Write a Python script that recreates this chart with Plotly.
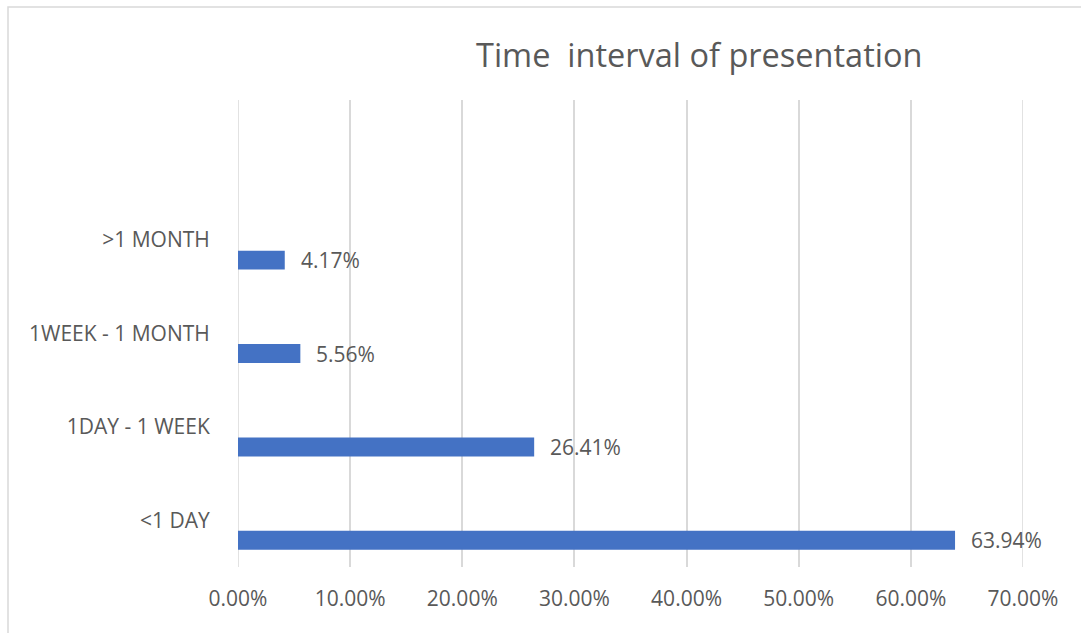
import plotly.graph_objects as go

categories = ["<1 DAY", "1DAY - 1 WEEK", "1WEEK - 1 MONTH", ">1 MONTH"]
values = [0.6394, 0.2641, 0.0556, 0.0417]
x_ticks = [0.0, 0.1, 0.2, 0.3, 0.4, 0.5, 0.6, 0.7]
title_text = "Time  interval of presentation"

W, H = 1081, 633
L, R, T, B = 238, 1081 - 1023, 100, 633 - 567
pw, ph = W - L - R, H - T - B

FONT = "Segoe UI, Open Sans, Noto Sans, sans-serif"
GREY = "#595959"
GRID = "#d9d9d9"
LBL = 21

fig = go.Figure()
fig.add_trace(go.Bar(
    x=values, y=categories, orientation="h",
    marker=dict(color="#4472C4", line=dict(width=0)),
    offset=-0.316, width=0.203,
    hoverinfo="x+y",
))

for v, c in zip(values, categories):
    fig.add_annotation(
        x=v, y=c, xref="x", yref="y", text=f"{v*100:.2f}%",
        showarrow=False, xanchor="left", yanchor="middle",
        xshift=14, yshift=-20,
        font=dict(family=FONT, size=LBL, color=GREY),
    )

fig.add_annotation(
    x=(699 - L) / pw, y=(H - B - 55) / ph, xref="paper", yref="paper",
    text=title_text, showarrow=False, xanchor="center", yanchor="middle",
    font=dict(family=FONT, size=32.5, color=GREY),
)

# gridlines at the range edges (Plotly omits them)
for xv in (x_ticks[0], x_ticks[-1]):
    fig.add_shape(
        type="line", xref="x", yref="paper", x0=xv, x1=xv, y0=0, y1=1,
        line=dict(color=GRID, width=1.5), layer="below",
    )

# chart border (only top and left edges visible in frame)
fig.add_shape(
    type="rect", xref="paper", yref="paper",
    x0=(8 - L) / pw, x1=(W + 20 - L) / pw,
    y0=(H - B - (H + 20)) / ph, y1=(H - B - 7) / ph,
    line=dict(color=GRID, width=1.5), fillcolor="rgba(0,0,0,0)", layer="below",
)

fig.update_layout(
    width=W, height=H,
    margin=dict(l=L, r=R, t=T, b=B, pad=0),
    paper_bgcolor="white", plot_bgcolor="white",
    showlegend=False,
    font=dict(family=FONT, size=LBL, color=GREY),
    xaxis=dict(
        range=[0, 0.7], tickvals=x_ticks, tickformat=".2%",
        showgrid=True, gridcolor=GRID, gridwidth=1.5,
        zeroline=False, showline=False,
        ticks="outside", ticklen=13, tickcolor="rgba(0,0,0,0)",
        tickfont=dict(family=FONT, size=LBL, color=GREY),
        fixedrange=True,
    ),
    yaxis=dict(
        type="category", categoryorder="array", categoryarray=categories,
        range=[-0.5, 4.5],
        showgrid=False, zeroline=False, showline=False,
        ticks="outside", ticklen=23, tickcolor="rgba(0,0,0,0)",
        tickfont=dict(family=FONT, size=LBL, color=GREY),
        fixedrange=True,
    ),
)

fig.write_html("out.html")
